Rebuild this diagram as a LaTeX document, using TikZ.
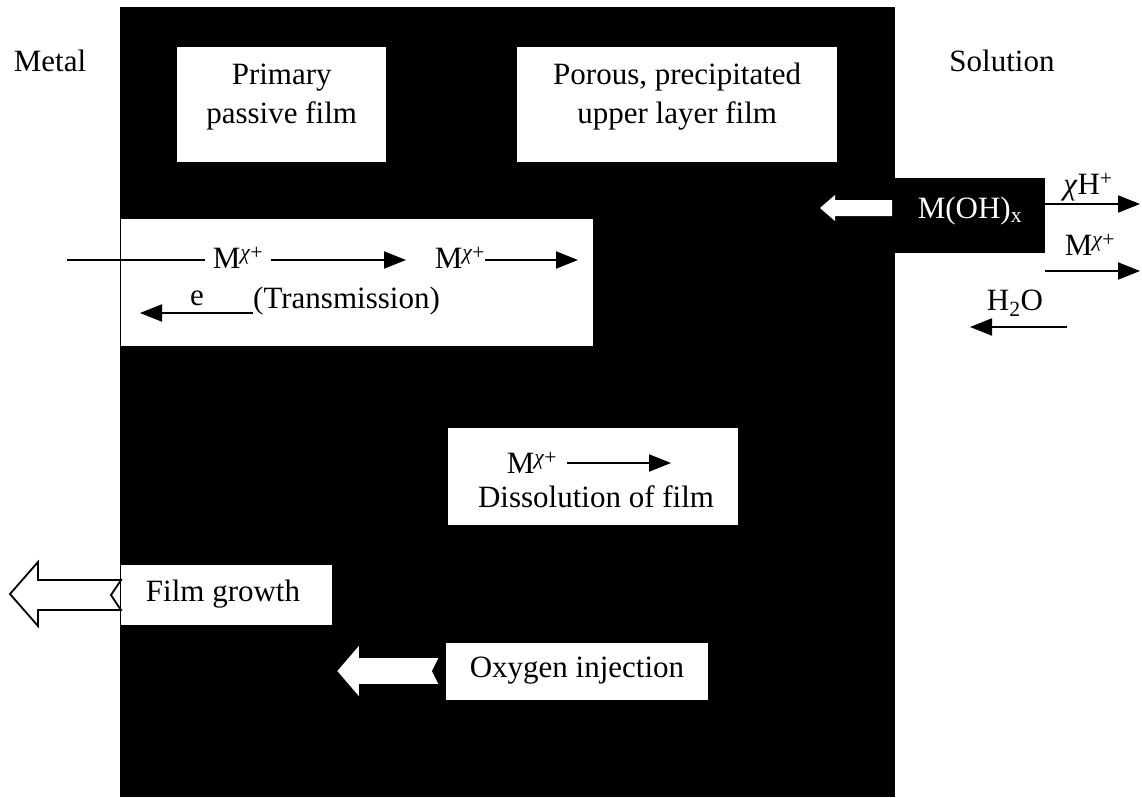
\documentclass[tikz,border=0pt]{standalone}
\usepackage{fontspec}
\setmainfont{Liberation Serif}
\usetikzlibrary{arrows.meta,positioning,calc}
\newcommand{\mx}{M\textsuperscript{\textit{χ}+}}
\tikzset{
  txt/.style={font=\fontsize{31}{39}\selectfont, inner sep=0pt},
  wbox/.style={fill=white, inner sep=0pt, anchor=north west},
  flow/.style={line width=2pt, -{Triangle[length=22pt,width=17pt]}},
  blk/.style={fill=white, draw=black, line width=1.8pt, line join=miter}
}
\begin{document}
\begin{tikzpicture}[x=1pt, y=-1pt]
\useasboundingbox (0,0) rectangle (1142,797);
% the film between metal and solution
\fill[black] (120,7) rectangle (895,797);
\node[txt] (metal) at (50,61) {Metal};
\node[txt] (sol) at (1002,61) {Solution};
% white boxes
\node[wbox, minimum width=209pt, minimum height=115pt] (prim) at (177,47) {};
\node[wbox, minimum width=320pt, minimum height=115pt] (por) at (517,47) {};
\node[wbox, minimum width=472pt, minimum height=127pt] (trans) at (121,219) {};
\node[wbox, minimum width=290pt, minimum height=97pt] (diss) at (448,428) {};
\node[wbox, minimum width=211pt, minimum height=60pt] (grow) at (121,565) {};
\node[wbox, minimum width=262pt, minimum height=57pt] (oxy) at (446,643) {};
\node[fill=black, inner sep=0pt, anchor=north west, minimum width=153pt, minimum height=75pt] (moh) at (892,178) {};
% texts
\node[txt, align=center] (primt) at (prim.north |- 0,97) {Primary\\passive film};
\node[txt, align=center] (port) at (por.north |- 0,97) {Porous, precipitated\\upper layer film};
\node[txt] (ma) at (238,258) {\mx};
\node[txt] (mb) at (460,258) {\mx};
\node[txt, anchor=base west] (tr) at (253,308) {(Transmission)};
\node[txt, anchor=base] (el) at (197,305) {e};
\node[txt] (mc) at (532,463) {\mx};
\node[txt] (dt) at (596,497) {Dissolution of film};
\node[txt] (gt) at (223,594) {Film growth};
\node[txt] (ot) at (577,671) {Oxygen injection};
\node[txt, text=white] (moht) at (970,211) {M(OH)\textsubscript{x}};
\node[txt] (hx) at (1088,187) {\textit{χ}H\textsuperscript{+}};
\node[txt] (md) at (1090,245) {\mx};
\node[txt] (wat) at (1015,303) {H\textsubscript{2}O};
% arrow ends
\coordinate (src) at (67,260);
\coordinate (t1) at (406,260);
\coordinate (t2) at (578,260);
\coordinate (t3) at (140,313);
\coordinate (t4) at (671,463);
\coordinate (t5) at (1140,204);
\coordinate (s6) at (1045,271);
\coordinate (t6) at (1140,271);
\coordinate (s7) at (1067,327);
\coordinate (t7) at (970,327);
% connectors
\draw[line width=2pt] (src) -- ([xshift=-8pt]ma.west |- src);
\draw[flow] ([xshift=8pt]ma.east |- t1) -- (t1);
\draw[flow] (mb.east |- t2) -- (t2);
\draw[flow] (tr.base west |- t3) -- (t3);
\draw[flow] ([xshift=10pt]mc.east) -- (t4);
\draw[flow] (moh.east |- t5) -- (t5);
\draw[flow] (s6) -- (t6);
\draw[flow] (s7) -- (t7);
% block arrows
\draw[blk, draw=none] (moh.west |- 0,200) -- (835,200) -- (835,195) -- (820,208)
  -- (835,221) -- (835,216) -- (moh.west |- 0,216) -- cycle;
\draw[blk] (grow.north west |- 0,580) -- (38,580) -- (38,562) -- (10,594)
  -- (38,626) -- (38,610) -- (grow.north west |- 0,610) -- (111,595) -- cycle;
\draw[blk] (440,657) -- (360,657) -- (360,643) -- (336,671) -- (360,699)
  -- (360,685) -- (440,685) -- (433,671) -- cycle;
\end{tikzpicture}
\end{document}
